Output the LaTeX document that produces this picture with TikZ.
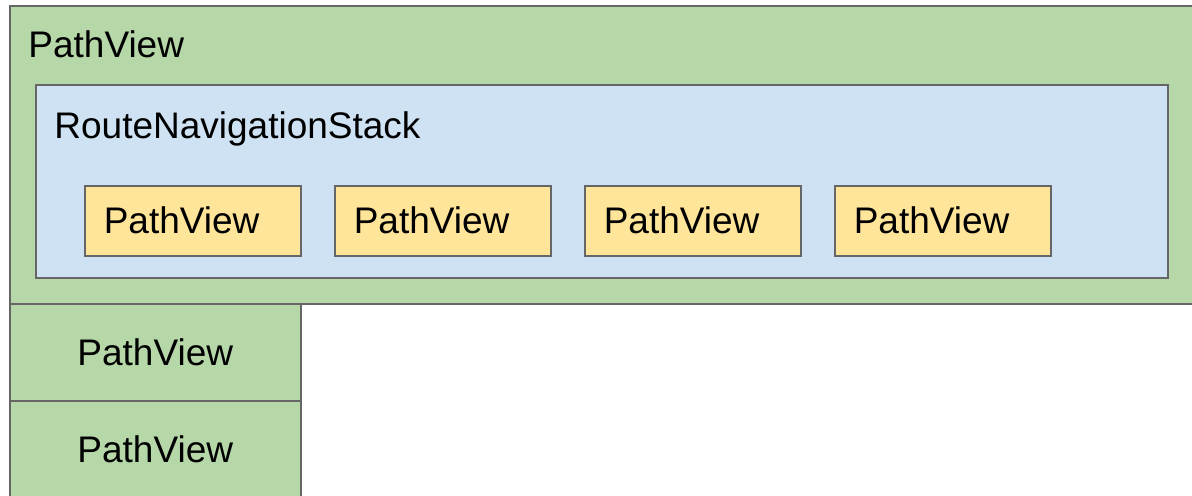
\documentclass[tikz,border=0pt]{standalone}
\usepackage{fontspec}
\setmainfont{Liberation Sans}
\usepackage{xcolor}

\definecolor{viewgreen}{HTML}{B6D7A8}
\definecolor{stackblue}{HTML}{CFE2F3}
\definecolor{itemyellow}{HTML}{FFE599}
\definecolor{edgegray}{HTML}{666666}

\begin{document}
\begin{tikzpicture}[
  x=0.5pt, y=-0.5pt,
  every node/.style={font=\fontsize{18.5}{22}\selectfont},
  box/.style={draw=edgegray, line width=0.75pt, anchor=north west, inner sep=0pt},
  pathbox/.style={box, fill=viewgreen},
  stackbox/.style={box, fill=stackblue, minimum width=566pt, minimum height=96.5pt},
  itembox/.style={box, fill=itemyellow, minimum width=108pt, minimum height=35pt,
                  text width=89pt, inner xsep=9.5pt, align=left},
  rowbox/.style={pathbox, minimum width=145.5pt, minimum height=48.5pt},
  label/.style={anchor=base west, inner sep=0pt},
]

\useasboundingbox (0,0) rectangle (1192,495);

% outer view with the stack inside
\node[pathbox, minimum width=610pt, minimum height=149pt] (outer) at (9,5) {};
\node[label] (outerlabel) at (28,57) {PathView};

\node[stackbox] (stack) at (35,84) {};
\node[label] (stacklabel) at (54,138) {RouteNavigationStack};

\node[itembox] (item1) at (84,185)  {PathView};
\node[itembox] (item2) at (334,185) {PathView};
\node[itembox] (item3) at (584,185) {PathView};
\node[itembox] (item4) at (834,185) {PathView};

% rows below
\node[rowbox] (row1) at (9,303) {PathView};
\node[rowbox] (row2) at (9,400) {PathView};

\end{tikzpicture}
\end{document}
